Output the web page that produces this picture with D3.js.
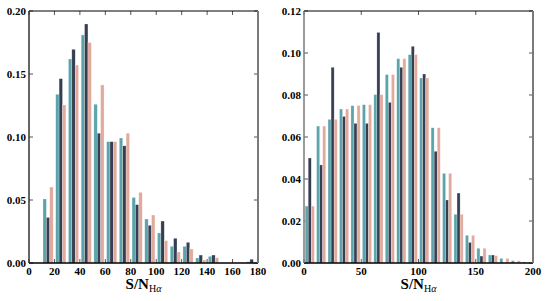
<!DOCTYPE html>
<html>
<head>
<meta charset="utf-8">
<script src="https://cdn.jsdelivr.net/npm/d3@7"></script>
<style>
  body { margin: 0; background: #fff; }
  svg { display: block; }
  .tick-label { font-family: "Liberation Serif", "Times New Roman", serif; font-weight: bold; font-size: 11px; fill: #000; }
  .axis-title { font-family: "Liberation Serif", "Times New Roman", serif; fill: #000; }
</style>
</head>
<body>
<div id="vis"></div>
<script>
// chart data (bin width 10)
const SERIES_NAMES = ["teal", "dark", "pink"];
const SERIES_COLORS = ["#5ba4ac", "#363f51", "#e2a99d"];

const LEFT_BIN_STARTS = [10, 20, 30, 40, 50, 60, 70, 80, 90, 100, 110, 120, 130, 140, 150, 160, 170];
const LEFT_TEAL = [0.0508, 0.1339, 0.1619, 0.181, 0.126, 0.0963, 0.0992, 0.052, 0.0349, 0.0238, 0.0132, 0.0132, 0.004, 0.0053, 0, 0, 0.001];
const LEFT_DARK = [0.0362, 0.1463, 0.1696, 0.1897, 0.103, 0.0963, 0.093, 0.0463, 0.0299, 0.0333, 0.0196, 0.0164, 0.0063, 0.0063, 0, 0, 0.003];
const LEFT_PINK = [0.0603, 0.1254, 0.1571, 0.175, 0.1413, 0.0963, 0.103, 0.0561, 0.0381, 0.0177, 0.0087, 0.0111, 0.0024, 0.0042, 0, 0, 0];
const LEFT_X_TICKS = [0, 20, 40, 60, 80, 100, 120, 140, 160, 180];
const LEFT_Y_TICKS = [0, 0.05, 0.10, 0.15, 0.20];

const RIGHT_BIN_STARTS = [0, 10, 20, 30, 40, 50, 60, 70, 80, 90, 100, 110, 120, 130, 140, 150, 160, 170, 180, 190];
const RIGHT_TEAL = [0.0271, 0.0652, 0.0684, 0.0733, 0.0749, 0.0754, 0.0802, 0.0897, 0.0973, 0.0992, 0.0881, 0.0644, 0.0427, 0.0232, 0.0132, 0.007, 0.0038, 0.0022, 0.0011, 0.0005];
const RIGHT_DARK = [0.05, 0.0467, 0.0932, 0.0698, 0.0665, 0.0665, 0.1098, 0.0765, 0.0932, 0.1032, 0.09, 0.0532, 0.03, 0.0333, 0.0098, 0.0033, 0.0038, 0, 0, 0];
const RIGHT_PINK = [0.0271, 0.0652, 0.0684, 0.0733, 0.075, 0.0754, 0.0802, 0.0897, 0.0973, 0.0992, 0.0881, 0.0644, 0.0427, 0.0232, 0.0132, 0.007, 0.0035, 0.0022, 0.0011, 0.0005];
const RIGHT_X_TICKS = [0, 50, 100, 150, 200];
const RIGHT_Y_TICKS = [0, 0.02, 0.04, 0.06, 0.08, 0.10, 0.12];

const BIN_WIDTH = 10;

const FRAME_WIDTH = 548;
const FRAME_HEIGHT = 301;

const SVG = d3.select("#vis")
  .append("svg")
    .attr("width", FRAME_WIDTH)
    .attr("height", FRAME_HEIGHT);

// draws one histogram panel
function build_panel(opts) {
  const X_SCALE = d3.scaleLinear().domain(opts.xDomain).range([opts.left, opts.right]);
  const Y_SCALE = d3.scaleLinear().domain(opts.yDomain).range([opts.bottom, opts.top]);
  const G = SVG.append("g");

  // inward ticks on all four sides (drawn first so bars cover the bottom ones)
  const TICK_LEN = 4;
  G.selectAll(".xt-bot").data(opts.xTicks).enter().append("line")
    .attr("x1", d => X_SCALE(d)).attr("x2", d => X_SCALE(d))
    .attr("y1", opts.bottom).attr("y2", opts.bottom - TICK_LEN)
    .attr("stroke", "#555").attr("stroke-width", 1);
  G.selectAll(".xt-top").data(opts.xTicks).enter().append("line")
    .attr("x1", d => X_SCALE(d)).attr("x2", d => X_SCALE(d))
    .attr("y1", opts.top).attr("y2", opts.top + TICK_LEN)
    .attr("stroke", "#555").attr("stroke-width", 1);
  G.selectAll(".yt-left").data(opts.yTicks).enter().append("line")
    .attr("x1", opts.left).attr("x2", opts.left + TICK_LEN)
    .attr("y1", d => Y_SCALE(d)).attr("y2", d => Y_SCALE(d))
    .attr("stroke", "#555").attr("stroke-width", 1);
  G.selectAll(".yt-right").data(opts.yTicks).enter().append("line")
    .attr("x1", opts.right).attr("x2", opts.right - TICK_LEN)
    .attr("y1", d => Y_SCALE(d)).attr("y2", d => Y_SCALE(d))
    .attr("stroke", "#555").attr("stroke-width", 1);

  // bars: 3 series side by side, each 0.8/3 of the bin
  const barW = BIN_WIDTH * 0.8 / 3;
  opts.series.forEach((vals, s) => {
    G.selectAll(".bar-" + s)
      .data(vals.map((v, i) => ({ x0: opts.bins[i] + BIN_WIDTH * 0.1 + s * barW, v: v })))
      .enter()
      .append("rect")
        .attr("x", d => X_SCALE(d.x0))
        .attr("width", X_SCALE(barW) - X_SCALE(0))
        .attr("y", d => Y_SCALE(d.v))
        .attr("height", d => Y_SCALE(0) - Y_SCALE(d.v))
        .attr("fill", SERIES_COLORS[s])
        .attr("stroke", "#ffffff")
        .attr("stroke-opacity", 0.5)
        .attr("stroke-width", 0.5);
  });

  // spines
  G.append("line").attr("x1", opts.left).attr("x2", opts.right).attr("y1", opts.top).attr("y2", opts.top)
    .attr("stroke", "#000").attr("stroke-width", 1.2);
  G.append("line").attr("x1", opts.left).attr("x2", opts.right).attr("y1", opts.bottom).attr("y2", opts.bottom)
    .attr("stroke", "#000").attr("stroke-width", 1.5);
  G.append("line").attr("x1", opts.left).attr("x2", opts.left).attr("y1", opts.top).attr("y2", opts.bottom)
    .attr("stroke", opts.leftSpine).attr("stroke-width", 1.5);
  G.append("line").attr("x1", opts.right).attr("x2", opts.right).attr("y1", opts.top).attr("y2", opts.bottom)
    .attr("stroke", opts.rightSpine).attr("stroke-width", 2);

  // tick labels
  G.selectAll(".xl").data(opts.xTicks).enter().append("text")
    .attr("class", "tick-label")
    .attr("x", d => X_SCALE(d)).attr("y", opts.bottom + 12)
    .attr("text-anchor", "middle")
    .text(d => d);
  G.selectAll(".yl").data(opts.yTicks).enter().append("text")
    .attr("class", "tick-label")
    .attr("x", opts.left - 3).attr("y", d => Y_SCALE(d) + 4)
    .attr("text-anchor", "end")
    .text(d => d3.format(".2f")(d));

  // axis title S/N_Hα
  const title = G.append("text")
    .attr("class", "axis-title")
    .attr("x", (opts.left + opts.right) / 2)
    .attr("y", opts.bottom + 26)
    .attr("text-anchor", "middle");
  title.append("tspan").attr("font-weight", "bold").attr("font-size", "15px").text("S/N");
  title.append("tspan").attr("font-size", "10px").attr("dy", 3).text("H");
  title.append("tspan").attr("font-size", "10px").attr("font-style", "italic").text("α");
}

build_panel({
  left: 29, right: 258, top: 11, bottom: 263,
  xDomain: [0, 180], yDomain: [0, 0.20],
  xTicks: LEFT_X_TICKS, yTicks: LEFT_Y_TICKS,
  bins: LEFT_BIN_STARTS,
  series: [LEFT_TEAL, LEFT_DARK, LEFT_PINK],
  leftSpine: "#333", rightSpine: "#7a7a7a"
});

build_panel({
  left: 304, right: 533, top: 11, bottom: 263,
  xDomain: [0, 200], yDomain: [0, 0.12],
  xTicks: RIGHT_X_TICKS, yTicks: RIGHT_Y_TICKS,
  bins: RIGHT_BIN_STARTS,
  series: [RIGHT_TEAL, RIGHT_DARK, RIGHT_PINK],
  leftSpine: "#7a7a7a", rightSpine: "#7a7a7a"
});
</script>
</body>
</html>
